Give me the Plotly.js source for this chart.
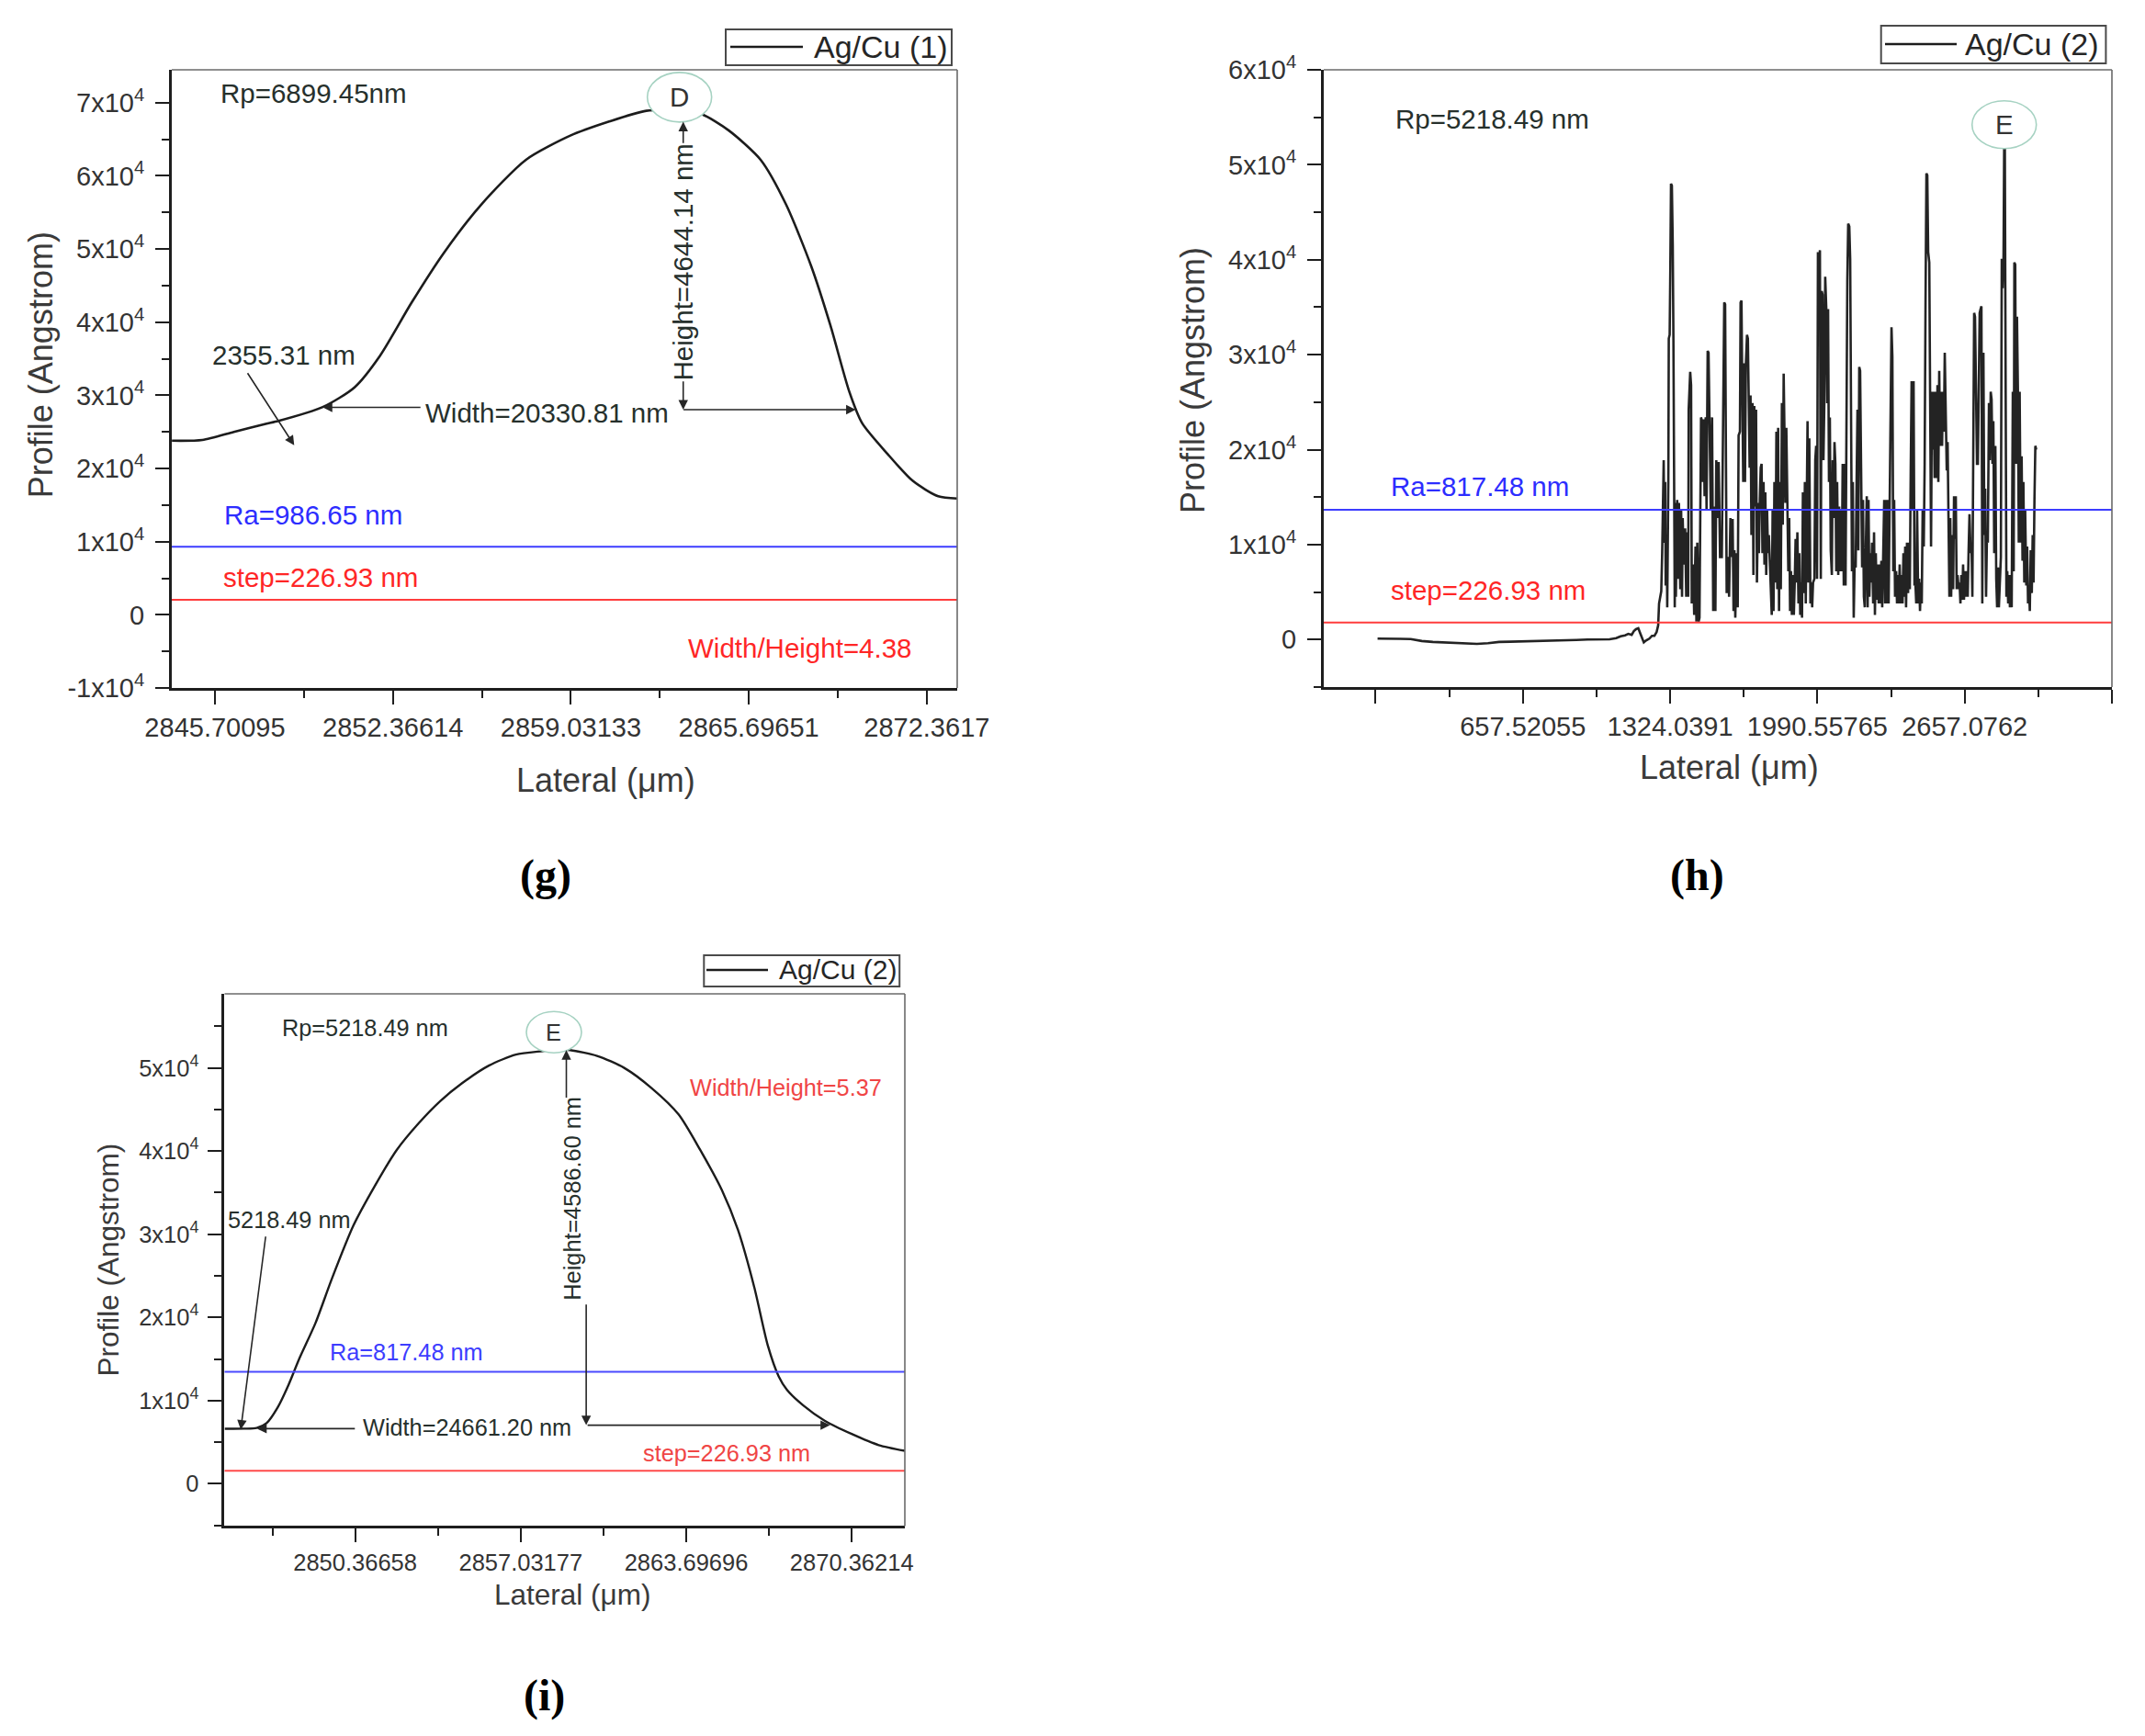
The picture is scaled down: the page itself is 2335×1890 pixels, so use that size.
<!DOCTYPE html>
<html>
<head>
<meta charset="utf-8">
<script src="https://cdn.plot.ly/plotly-3.0.1.min.js"></script>
<style>
  html, body { margin: 0; padding: 0; background: #ffffff; }
  #chart { width: 2335px; height: 1890px; }
</style>
</head>
<body>
<div id="chart"></div>
<script>
// ---------- Profile data (lateral in µm, profile in Å) ----------

// (g) Ag/Cu (1): single bump around peak D
const gLateral = [2844.09, 2845.23, 2846.41, 2847.60, 2848.08, 2849.74, 2850.93, 2851.88, 2853.07, 2854.26,
  2855.68, 2857.35, 2859.01, 2860.44, 2861.86, 2863.10, 2863.95, 2864.95, 2866.14, 2867.09,
  2868.04, 2868.75, 2869.46, 2869.94, 2870.89, 2871.84, 2872.79, 2873.50];
const gProfile = [23800, 23900, 25000, 26100, 26500, 28400, 31100, 35400, 42700, 49400,
  56100, 62200, 65500, 67400, 68900, 68994.5, 68400, 66200, 62200, 56100,
  47600, 39600, 30500, 26200, 22000, 18300, 16200, 15900];

// (h) Ag/Cu (2): full scan, flat substrate then rough deposit
const hLateral = [
  0, 50, 100, 150, 200, 250, 300, 350, 400, 450, 500, 550, 600, 650, 700, 750, 800, 850, 900, 950,
  1000, 1050, 1080, 1100, 1120, 1135, 1150, 1160, 1170, 1180, 1188, 1195, 1205, 1215, 1230,
  1242, 1253, 1263, 1270, 1274, 1280, 1284, 1288, 1291, 1295, 1298, 1302, 1304, 1309, 1311, 1316, 1318, 1322, 1325, 1328,
  1332, 1336, 1339, 1342, 1345, 1347, 1350, 1356, 1360, 1364, 1370, 1374, 1378, 1381, 1386, 1392, 1397, 1401, 1406, 1408,
  1413, 1415, 1419, 1422, 1428, 1433, 1439, 1443, 1447, 1453, 1457, 1461, 1464, 1468, 1472, 1476, 1480, 1485, 1489, 1492,
  1494, 1498, 1503, 1508, 1514, 1519, 1525, 1529, 1533, 1539, 1544, 1550,
  1558, 1562, 1565, 1569, 1573, 1576, 1580, 1586, 1591, 1597, 1602, 1607, 1611, 1615, 1619, 1625, 1630, 1634, 1640, 1643,
  1647, 1651, 1655, 1659, 1663, 1667, 1672, 1676, 1680, 1684, 1688, 1692, 1697, 1701, 1705, 1709, 1713, 1717, 1722, 1726,
  1730, 1734, 1738, 1742, 1747, 1751, 1755, 1759, 1763, 1767, 1771, 1776, 1780, 1784, 1788, 1792, 1796, 1801, 1805, 1809,
  1813, 1817, 1821, 1825, 1830, 1834, 1838, 1843,
  1846, 1850, 1855, 1859, 1863, 1867, 1871, 1875, 1880, 1884, 1888, 1892, 1896, 1900, 1905, 1909, 1913, 1917, 1921, 1925,
  1929, 1934, 1938, 1942, 1946, 1950, 1954, 1959, 1963, 1967, 1971, 1977, 1981, 1985, 1989, 1993, 1997, 2002, 2006, 2010,
  2014, 2018, 2022, 2026, 2031, 2035, 2039, 2043, 2047, 2051, 2056, 2060, 2064, 2068, 2072, 2076, 2080, 2085, 2089, 2093,
  2097, 2101, 2105, 2110, 2114, 2118, 2122, 2126, 2130, 2135,
  2139, 2143, 2147, 2151, 2155, 2159, 2164, 2168, 2172, 2176, 2180, 2184, 2189, 2193, 2197, 2201, 2205, 2209, 2214, 2218,
  2222, 2226, 2230, 2234, 2238, 2243, 2247, 2251, 2255, 2259, 2263, 2268, 2272, 2276, 2280, 2284, 2288, 2293, 2297, 2301,
  2305, 2309, 2313, 2317, 2322, 2326, 2330, 2334, 2338, 2342, 2347, 2351, 2355, 2359, 2363, 2367, 2371, 2376, 2380, 2384,
  2388, 2392, 2396, 2401, 2405, 2409, 2413, 2417, 2421, 2426,
  2430, 2434, 2438, 2442, 2447, 2451, 2455, 2459, 2463, 2467, 2472, 2476, 2480, 2484, 2488, 2492, 2497, 2501, 2505, 2509,
  2513, 2517, 2521, 2526, 2530, 2534, 2538, 2542, 2546, 2551, 2555, 2559, 2563, 2567, 2571, 2576, 2580, 2584, 2588, 2592,
  2596, 2600, 2605, 2609, 2613, 2617, 2621, 2625, 2630, 2634, 2638, 2642, 2646, 2650, 2654, 2659, 2663, 2667, 2671, 2675,
  2679, 2684, 2688, 2692, 2696, 2700, 2704, 2709, 2713, 2717,
  2721, 2725, 2729, 2733, 2737, 2742, 2746, 2750, 2754, 2758, 2762, 2767, 2771, 2775, 2779, 2783, 2787, 2791, 2796, 2800,
  2804, 2808, 2812, 2816, 2821, 2825, 2829, 2833, 2836, 2839, 2841, 2846, 2850, 2854, 2858, 2862, 2866, 2870, 2875, 2879,
  2882, 2886, 2890, 2894, 2898, 2902, 2906, 2911, 2915, 2919, 2923, 2927, 2931, 2936, 2940, 2944, 2948, 2952, 2956, 2961,
  2965, 2969, 2973, 2977, 2981];
const hProfile = [
  100, 120, 80, 50, -150, -250, -300, -350, -400, -450, -380, -250, -220, -200, -150, -120, -100, -80, -40, 0,
  20, 30, 150, 350, 450, 600, 500, 900, 1100, 1200, 700, 200, -300, -100, 100,
  400, 400, 800, 1500, 3800, 4500, 5100, 9100, 15900, 18900, 10200, 16600, 5700, 10600, 3400, 16600, 31700, 32100, 39300, 48000,
  47800, 41600, 31700, 13600, 3400, 14400, 4500, 14700, 6400, 14400, 5300, 13600, 4500, 12800, 7900, 11700, 4500, 11300, 4500, 24200,
  27200, 28200, 26800, 3800, 7900, 2600, 9800, 1900, 10200, 1900, 2300, 17000, 23400, 23000, 16600, 23200, 15100, 23400, 13600, 24200,
  30400, 30200, 23400, 13600, 23400, 3000, 14000, 3000, 18900, 12800, 18700, 8700,
  8700, 18900, 31700, 35500, 35300, 23400, 4900, 8700, 4500, 12800, 8700, 12700, 3000, 9400, 2300, 9100, 3400, 21500, 21900, 35500,
  35700, 25700, 16600, 29100, 16600, 29100, 32100, 31700, 24900, 18100, 25700, 11000, 24900, 6800, 24600, 14000, 24200, 6000, 14400, 9100,
  14700, 18100, 18500, 9100, 16600, 7900, 15500, 6800, 13600, 9100, 11000, 6800, 5300, 2600, 13600, 3000, 16600, 6000, 21900, 5300,
  22300, 3000, 16600, 5300, 24900, 12100, 28000, 15500,
  14400, 22300, 13200, 7200, 12800, 3000, 7200, 2600, 6800, 2600, 6000, 10600, 6000, 11300, 3800, 9100, 2600, 6000, 2300, 15500,
  4900, 16600, 3800, 18100, 23000, 6000, 21200, 3800, 6000, 3400, 6000, 6400, 18900, 20400, 6400, 40800, 38500, 41000, 6400, 36700,
  36300, 18900, 24900, 38200, 34800, 24900, 34800, 16600, 23400, 9400, 6800, 18900, 12800, 20800, 18500, 7200, 16600, 6800, 14000, 7200,
  13600, 7200, 18500, 5700, 18500, 5700, 23400, 37800, 43800, 43500,
  40100, 21200, 7200, 16600, 2300, 7900, 7600, 16600, 24200, 9400, 28700, 28300, 16600, 7600, 14700, 4500, 3400, 9100, 15100, 3400,
  14700, 4500, 9100, 6000, 10200, 3800, 11300, 2600, 9100, 4200, 7900, 3800, 7900, 3800, 8300, 3400, 7600, 14700, 3800, 14700,
  3800, 14700, 3800, 14700, 30200, 32900, 29800, 7200, 14700, 4500, 7200, 3800, 6800, 3800, 7900, 3800, 6800, 3800, 9100, 4500,
  9800, 3400, 10200, 4900, 10200, 5300, 17800, 27200, 13600, 27200,
  5700, 6000, 3800, 13600, 3800, 6400, 3000, 6000, 3800, 13600, 9800, 18500, 35500, 49100, 48900, 40800, 39700, 20000, 9800, 26100,
  20000, 26100, 17000, 26100, 17000, 26800, 16600, 28300, 20400, 26100, 20400, 26100, 21900, 30200, 21900, 17800, 20800, 9800, 4500, 12800,
  4500, 11000, 5300, 15100, 10600, 15100, 5300, 6800, 5300, 6000, 3800, 6800, 4200, 7900, 4200, 7200, 4500, 7200, 4500, 9400,
  13200, 9100, 10200, 4500, 18900, 34400, 34000, 25300, 18500, 18500,
  26100, 34400, 34800, 35100, 3800, 30200, 11000, 15900, 4500, 11000, 10200, 24900, 18900, 26100, 25300, 18500, 23000, 9100, 20400, 6400,
  3400, 7600, 3400, 6800, 8700, 40100, 37000, 40100, 52184.9, 51800, 37400, 4500, 7200, 3800, 6800, 3400, 6800, 3400, 26100, 7200,
  39700, 39500, 18500, 34000, 26500, 10200, 26100, 10200, 19300, 8300, 16600, 6000, 13600, 5700, 9800, 3800, 5700, 3000, 9400, 4900,
  11000, 6000, 14700, 20400, 20000];

// (i) Ag/Cu (2): single bump around peak E
const iLateral = [2845.11, 2845.90, 2846.40, 2846.81, 2847.25, 2847.68, 2848.12, 2848.77, 2849.43, 2850.30,
  2851.17, 2852.04, 2852.92, 2853.79, 2854.66, 2855.75, 2856.84, 2857.93, 2858.37, 2859.02,
  2860.11, 2861.20, 2862.29, 2863.39, 2864.26, 2865.13, 2865.78, 2866.44, 2866.98, 2867.42,
  2867.75, 2868.40, 2869.27, 2870.36, 2871.45, 2872.50];
const iProfile = [6600, 6620, 6700, 7310, 9180, 11850, 15050, 19320, 24650, 31060,
  35860, 40130, 43330, 46000, 48130, 50270, 51600, 52030, 52184.9, 52130,
  51440, 50000, 47600, 44400, 40130, 35320, 30520, 23590, 16650, 12910,
  11310, 9440, 7580, 5980, 4640, 3950];

// Ra and step reference levels (Å) for panels g, h, i
const raLevel = [9300, 13670, 13450];
const stepLevel = [2050, 1806, 1550];

// Tick positions and labels
const gXTickVals = [2845.70095, 2852.36614, 2859.03133, 2865.69651, 2872.3617];
const gXTickText = ['2845.70095', '2852.36614', '2859.03133', '2865.69651', '2872.3617'];
const hXTickVals = [-8.99805, 657.52055, 1324.0391, 1990.55765, 2657.0762, 3323.59475];
const hXTickText = ['', '657.52055', '1324.0391', '1990.55765', '2657.0762', ''];
const iXTickVals = [2850.36658, 2857.03177, 2863.69696, 2870.36214];
const iXTickText = ['2850.36658', '2857.03177', '2863.69696', '2870.36214'];
const gYTickVals = [-10000, 0, 10000, 20000, 30000, 40000, 50000, 60000, 70000];
const hYTickVals = [0, 10000, 20000, 30000, 40000, 50000, 60000];
const iYTickVals = [0, 10000, 20000, 30000, 40000, 50000];

// ---------- Styling helpers ----------
const FONT = 'Liberation Sans, Arial, Helvetica, sans-serif';
const SERIF = 'Liberation Serif, Times New Roman, serif';
const AXIS_INK = '#1e1e1e';
const LABEL_INK = '#333333';
const NOTE_INK = '#26302c';
const RED = '#ff2626';
const BLUE = '#2d2dff';

function powerLabel(v) {
  return v === 0 ? '0' : (v / 1e4) + 'x10<sup>4</sup>';
}

function axis(domain, anchor, range, vals, text, minorStart, minorStep, fs, standoff) {
  return {
    domain: domain, anchor: anchor, range: range,
    tickmode: 'array', tickvals: vals, ticktext: text,
    showline: true, linecolor: AXIS_INK, linewidth: 3,
    ticks: 'outside', ticklen: 15, tickwidth: 2, tickcolor: AXIS_INK,
    ticklabelstandoff: standoff || 0,
    minor: { tickmode: 'linear', tick0: minorStart, dtick: minorStep,
             ticks: 'outside', ticklen: 8, tickwidth: 2, tickcolor: AXIS_INK, showgrid: false },
    showgrid: false, zeroline: false,
    tickfont: { family: FONT, size: fs, color: LABEL_INK }
  };
}

function note(xr, yr, x, y, text, size, color, extra) {
  return Object.assign({
    xref: xr, yref: yr, x: x, y: y, text: text, showarrow: false,
    xanchor: 'center', yanchor: 'middle',
    font: { family: FONT, size: size, color: color }
  }, extra || {});
}

function arrow(xr, yr, tail, head) {
  return {
    xref: xr, yref: yr, axref: xr, ayref: yr,
    x: head[0], y: head[1], ax: tail[0], ay: tail[1],
    text: '', showarrow: true, arrowhead: 2, arrowsize: 1.3, arrowwidth: 1.6,
    arrowcolor: '#262626', standoff: 0, startstandoff: 0
  };
}

function levelLine(xr, yr, level, color) {
  return { type: 'line', layer: 'above', xref: xr + ' domain', yref: yr,
           x0: 0, x1: 1, y0: level, y1: level, line: { color: color, width: 2 } };
}

function frameLines(xr, yr) {
  return [
    { type: 'line', layer: 'above', xref: xr + ' domain', yref: yr + ' domain',
      x0: 0, x1: 1, y0: 1, y1: 1, line: { color: '#6a6a6a', width: 1.6 } },
    { type: 'line', layer: 'above', xref: xr + ' domain', yref: yr + ' domain',
      x0: 1, x1: 1, y0: 0, y1: 1, line: { color: '#6a6a6a', width: 1.6 } }
  ];
}

// Peak marker: an ellipse floating above the highest point of a profile
function peakOf(xs, ys) {
  let k = 0;
  for (let j = 1; j < ys.length; j++) if (ys[j] > ys[k]) k = j;
  return [xs[k], ys[k]];
}
function peakCircle(xr, yr, peak, halfW, halfH, lift) {
  return { type: 'circle', layer: 'above', xref: xr, yref: yr,
           xsizemode: 'pixel', ysizemode: 'pixel', xanchor: peak[0], yanchor: peak[1],
           x0: -halfW, x1: halfW, y0: lift - halfH, y1: lift + halfH,
           line: { color: '#a6d2c2', width: 1.6 }, fillcolor: '#ffffff' };
}

// Boxed legend key drawn in page coordinates: frame, line sample and series name
function legendKey(box, sample, textX, name, size) {
  return {
    shapes: [
      { type: 'rect', layer: 'above', xref: 'paper', yref: 'paper',
        x0: box[0], x1: box[1], y0: box[2], y1: box[3],
        line: { color: '#4a4a4a', width: 2 }, fillcolor: '#ffffff' },
      { type: 'line', layer: 'above', xref: 'paper', yref: 'paper',
        x0: sample[0], x1: sample[1], y0: sample[2], y1: sample[2],
        line: { color: '#1c1c1c', width: 2.6 } }
    ],
    annotation: note('paper', 'paper', textX, sample[2], name, size, '#262626', { xanchor: 'left' })
  };
}

const gPeak = peakOf(gLateral, gProfile);
const hPeak = peakOf(hLateral, hProfile);
const iPeak = peakOf(iLateral, iProfile);

// ---------- Traces ----------
const traces = [
  { type: 'scatter', mode: 'lines', name: 'Ag/Cu (1)', x: gLateral, y: gProfile,
    xaxis: 'x', yaxis: 'y', showlegend: false,
    line: { color: '#1c1c1c', width: 2.6, shape: 'spline', smoothing: 0.7 } },
  { type: 'scatter', mode: 'lines', name: 'Ag/Cu (2)', x: hLateral, y: hProfile,
    xaxis: 'x2', yaxis: 'y2', showlegend: false,
    line: { color: '#232323', width: 2.6 } },
  { type: 'scatter', mode: 'lines', name: 'Ag/Cu (2)', x: iLateral, y: iProfile,
    xaxis: 'x3', yaxis: 'y3', showlegend: false,
    line: { color: '#1c1c1c', width: 2.4, shape: 'spline', smoothing: 0.7 } }
];

const keys = [
  legendKey([0.33833, 0.44368, 0.96243, 0.98307], [0.34047, 0.37430, 0.97302], 0.37859, traces[0].name, 34),
  legendKey([0.87696, 0.98176, 0.96349, 0.98519], [0.87880, 0.91221, 0.97460], 0.91520, traces[1].name, 34),
  legendKey([0.32818, 0.41936, 0.43175, 0.44974], [0.32934, 0.35803, 0.44127], 0.36231, traces[2].name, 30)
];

// ---------- Annotations ----------
const GS = 29.5;  // note size, panels g and h
const IS = 25.3;  // note size, panel i
const annotations = [
  // panel g
  note('x', 'y', 2845.84, 71360, 'Rp=6899.45nm', GS, NOTE_INK, { xanchor: 'left' }),
  note('x', 'y', gPeak[0], gPeak[1], 'D', GS, '#333', { yshift: 14 }),
  note('x', 'y', 2863.24, 48170, 'Height=4644.14 nm', GS, NOTE_INK, { textangle: -90 }),
  arrow('x', 'y', [2863.24, 64300], [2863.24, 67400]),
  arrow('x', 'y', [2863.24, 32100], [2863.24, 28050]),
  note('x', 'y', 2858.13, 27560, 'Width=20330.81 nm', GS, NOTE_INK),
  arrow('x', 'y', [2853.45, 28350], [2849.74, 28350]),
  arrow('x', 'y', [2863.20, 28050], [2869.70, 28050]),
  note('x', 'y', 2848.27, 35550, '2355.31 nm', GS, NOTE_INK),
  arrow('x', 'y', [2846.89, 33230], [2848.67, 23170]),
  note('x', 'y', 2845.99, 13720, 'Ra=986.65 nm', GS, BLUE, { xanchor: 'left' }),
  note('x', 'y', 2845.94, 5180, 'step=226.93 nm', GS, RED, { xanchor: 'left' }),
  note('x', 'y', 2867.61, -4500, 'Width/Height=4.38', GS, RED),

  // panel h
  note('x2', 'y2', 71, 54850, 'Rp=5218.49 nm', GS, NOTE_INK, { xanchor: 'left' }),
  note('x2', 'y2', hPeak[0], hPeak[1], 'E', GS, '#333', { yshift: 21 }),
  note('x2', 'y2', 51, 16150, 'Ra=817.48 nm', GS, BLUE, { xanchor: 'left' }),
  note('x2', 'y2', 51, 5210, 'step=226.93 nm', GS, RED, { xanchor: 'left' }),

  // panel i
  note('x3', 'y3', 2847.36, 54800, 'Rp=5218.49 nm', IS, NOTE_INK, { xanchor: 'left' }),
  note('x3', 'y3', iPeak[0], iPeak[1], 'E', IS, '#333', { yshift: 19 }),
  note('x3', 'y3', 2859.13, 34260, 'Height=4586.60 nm', IS, NOTE_INK, { textangle: -90 }),
  arrow('x3', 'y3', [2858.87, 46260], [2858.87, 52130]),
  arrow('x3', 'y3', [2859.67, 21720], [2859.67, 7040]),
  note('x3', 'y3', 2854.88, 6780, 'Width=24661.20 nm', IS, NOTE_INK),
  arrow('x3', 'y3', [2850.41, 6620], [2846.42, 6620]),
  arrow('x3', 'y3', [2859.67, 7040], [2869.49, 7040]),
  note('x3', 'y3', 2847.70, 31750, '5218.49 nm', IS, NOTE_INK),
  arrow('x3', 'y3', [2846.77, 29880], [2845.76, 6510]),
  note('x3', 'y3', 2867.70, 47600, 'Width/Height=5.37', IS, '#f04545'),
  note('x3', 'y3', 2852.44, 15850, 'Ra=817.48 nm', IS, '#3d3dff'),
  note('x3', 'y3', 2865.32, 3680, 'step=226.93 nm', IS, '#f04545'),

  // axis titles
  note('paper', 'paper', 0.01914, 0.78968, 'Profile (Angstrom)', 36, '#3a3a3a', { textangle: -90 }),
  note('paper', 'paper', 0.28248, 0.55079, 'Lateral (μm)', 36, '#3a3a3a'),
  note('paper', 'paper', 0.55589, 0.78095, 'Profile (Angstrom)', 36, '#3a3a3a', { textangle: -90 }),
  note('paper', 'paper', 0.80600, 0.55794, 'Lateral (μm)', 36, '#3a3a3a'),
  note('paper', 'paper', 0.05096, 0.27434, 'Profile (Angstrom)', 31.5, '#3a3a3a', { textangle: -90 }),
  note('paper', 'paper', 0.26681, 0.08148, 'Lateral (μm)', 31.5, '#3a3a3a'),

  // panel letters
  note('paper', 'paper', 0.25439, 0.49577, '<b>(g)</b>', 48, '#000', { font: { family: SERIF, size: 48, color: '#000' } }),
  note('paper', 'paper', 0.79101, 0.49577, '<b>(h)</b>', 48, '#000', { font: { family: SERIF, size: 48, color: '#000' } }),
  note('paper', 'paper', 0.25396, 0.02328, '<b>(i)</b>', 48, '#000', { font: { family: SERIF, size: 48, color: '#000' } })
].concat(keys.map(k => k.annotation));

// ---------- Shapes ----------
let shapes = [
  levelLine('x', 'y', raLevel[0], '#3c3cff'),
  levelLine('x', 'y', stepLevel[0], '#ff3c3c'),
  levelLine('x2', 'y2', raLevel[1], '#3c3cff'),
  levelLine('x2', 'y2', stepLevel[1], '#ff3c3c'),
  levelLine('x3', 'y3', raLevel[2], '#4a4aff'),
  levelLine('x3', 'y3', stepLevel[2], '#ff4a4a'),
  peakCircle('x', 'y', gPeak, 35, 27, 14),
  peakCircle('x2', 'y2', hPeak, 35, 26, 21),
  peakCircle('x3', 'y3', iPeak, 30, 22.5, 19)
].concat(frameLines('x', 'y'), frameLines('x2', 'y2'), frameLines('x3', 'y3'));
keys.forEach(k => { shapes = shapes.concat(k.shapes); });

const layout = {
  width: 2335, height: 1890,
  margin: { l: 0, r: 0, t: 0, b: 0 },
  paper_bgcolor: '#ffffff', plot_bgcolor: '#ffffff',
  showlegend: false,
  xaxis: axis([0.08009, 0.44625], 'y', [2844.085, 2873.502], gXTickVals, gXTickText, 2845.70095, 3.332595, 29),
  yaxis: axis([0.60370, 0.95979], 'x', [-10000, 74500], gYTickVals, gYTickVals.map(powerLabel), 0, 5000, 29, 6),
  xaxis2: axis([0.61713, 0.98458], 'y2', [-243.6, 3323.6], hXTickVals, hXTickText, -8.99805, 333.2593, 29),
  yaxis2: axis([0.60423, 0.95979], 'x2', [-5000, 60000], hYTickVals, hYTickVals.map(powerLabel), 0, 5000, 29, 6),
  xaxis3: axis([0.10471, 0.42184], 'y3', [2845.11, 2872.50], iXTickVals, iXTickText, 2847.03399, 3.332595, 25.5),
  yaxis3: axis([0.12090, 0.42751], 'x3', [-5100, 58900], iYTickVals, iYTickVals.map(powerLabel), 0, 5000, 25.5, 5),
  annotations: annotations,
  shapes: shapes
};

Plotly.newPlot('chart', traces, layout, { staticPlot: true, displayModeBar: false });
</script>
</body>
</html>
